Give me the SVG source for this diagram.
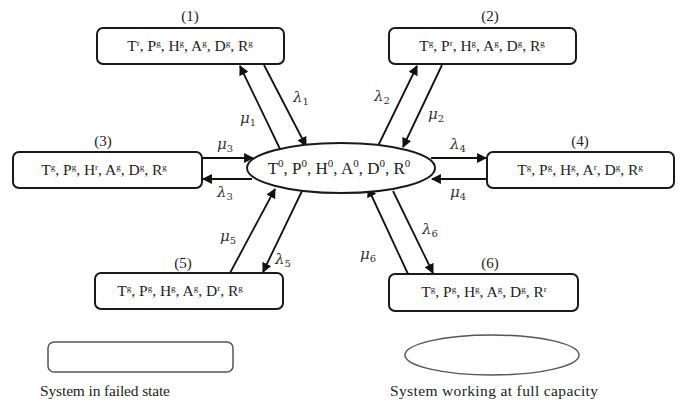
<svg xmlns="http://www.w3.org/2000/svg" width="683" height="405" viewBox="0 0 683 405">
<style>
.box{fill:#fff;stroke:#1a1a1a;stroke-width:2}
.t{font-family:"Liberation Serif",serif;font-size:15.5px;fill:#222;text-anchor:middle}
.s{font-size:9px}
.e{font-family:"Liberation Serif",serif;font-size:17px;fill:#222;text-anchor:middle}
.s2{font-size:11px}
.lb{font-family:"Liberation Serif",serif;font-size:15px;fill:#222;text-anchor:middle}
.g{font-family:"DejaVu Serif","Liberation Serif",serif;font-style:italic;font-size:15px;fill:#333;text-anchor:middle}
.sub{font-size:10px;font-style:normal}
.c{stroke:#111;stroke-width:1.8;fill:none;marker-end:url(#ah)}
.lg{font-family:"Liberation Serif",serif;font-size:15.5px;fill:#222}
</style>
<defs>
<marker id="ah" viewBox="0 0 10 10" refX="9" refY="5" markerWidth="5.5" markerHeight="5.5" orient="auto" markerUnits="strokeWidth">
<path d="M0,0 L10,5 L0,10 z" fill="#111"/>
</marker>
</defs>
<rect width="683" height="405" fill="#fff"/>
<g id="connectors">
<line class="c" x1="280" y1="149" x2="240" y2="66"/>
<line class="c" x1="264" y1="65" x2="306" y2="146"/>
<line class="c" x1="377" y1="148" x2="417" y2="66"/>
<line class="c" x1="442" y1="65" x2="403" y2="147"/>
<line class="c" x1="202" y1="158" x2="253" y2="158"/>
<line class="c" x1="252" y1="179" x2="203" y2="179"/>
<line class="c" x1="431" y1="158" x2="486" y2="158"/>
<line class="c" x1="487" y1="179" x2="432" y2="179"/>
<line class="c" x1="230" y1="273" x2="275" y2="189"/>
<line class="c" x1="302" y1="191" x2="263" y2="272"/>
<line class="c" x1="408" y1="274" x2="368" y2="188"/>
<line class="c" x1="393" y1="191" x2="433" y2="273"/>
<text class="g" x="248" y="123">μ<tspan class="sub" dy="3">1</tspan></text>
<text class="g" x="301" y="102">λ<tspan class="sub" dy="3">1</tspan></text>
<text class="g" x="382" y="101">λ<tspan class="sub" dy="3">2</tspan></text>
<text class="g" x="436" y="119">μ<tspan class="sub" dy="3">2</tspan></text>
<text class="g" x="225" y="149">μ<tspan class="sub" dy="3">3</tspan></text>
<text class="g" x="225" y="197">λ<tspan class="sub" dy="3">3</tspan></text>
<text class="g" x="458" y="149">λ<tspan class="sub" dy="3">4</tspan></text>
<text class="g" x="458" y="197">μ<tspan class="sub" dy="3">4</tspan></text>
<text class="g" x="228" y="241">μ<tspan class="sub" dy="3">5</tspan></text>
<text class="g" x="283" y="264">λ<tspan class="sub" dy="3">5</tspan></text>
<text class="g" x="368" y="259">μ<tspan class="sub" dy="3">6</tspan></text>
<text class="g" x="430" y="234">λ<tspan class="sub" dy="3">6</tspan></text>
</g>
<g id="n0">
<ellipse class="box" cx="341" cy="168" rx="94" ry="25"/>
<text class="e" x="339" y="174">T<tspan class="s2" dy="-7">0</tspan><tspan dy="7">, P</tspan><tspan class="s2" dy="-7">0</tspan><tspan dy="7">, H</tspan><tspan class="s2" dy="-7">0</tspan><tspan dy="7">, A</tspan><tspan class="s2" dy="-7">0</tspan><tspan dy="7">, D</tspan><tspan class="s2" dy="-7">0</tspan><tspan dy="7">, R</tspan><tspan class="s2" dy="-7">0</tspan></text>
</g>
<g id="n1">
<text class="lb" x="190" y="21">(1)</text>
<rect class="box" x="97" y="28" width="187" height="36" rx="6"/>
<text class="t" x="190" y="51">T<tspan class="s" dy="-5">r</tspan><tspan dy="5">, P</tspan><tspan class="s" dy="-5">g</tspan><tspan dy="5">, H</tspan><tspan class="s" dy="-5">g</tspan><tspan dy="5">, A</tspan><tspan class="s" dy="-5">g</tspan><tspan dy="5">, D</tspan><tspan class="s" dy="-5">g</tspan><tspan dy="5">,  R</tspan><tspan class="s" dy="-5">g</tspan></text>
</g>
<g id="n2">
<text class="lb" x="490" y="21">(2)</text>
<rect class="box" x="389" y="28" width="187" height="36" rx="6"/>
<text class="t" x="482" y="51">T<tspan class="s" dy="-5">g</tspan><tspan dy="5">, P</tspan><tspan class="s" dy="-5">r</tspan><tspan dy="5">, H</tspan><tspan class="s" dy="-5">g</tspan><tspan dy="5">, A</tspan><tspan class="s" dy="-5">g</tspan><tspan dy="5">, D</tspan><tspan class="s" dy="-5">g</tspan><tspan dy="5">, R</tspan><tspan class="s" dy="-5">g</tspan></text>
</g>
<g id="n3">
<text class="lb" x="103" y="146">(3)</text>
<rect class="box" x="13" y="152" width="189" height="36" rx="6"/>
<text class="t" x="104" y="175">T<tspan class="s" dy="-5">g</tspan><tspan dy="5">, P</tspan><tspan class="s" dy="-5">g</tspan><tspan dy="5">, H</tspan><tspan class="s" dy="-5">r</tspan><tspan dy="5">, A</tspan><tspan class="s" dy="-5">g</tspan><tspan dy="5">, D</tspan><tspan class="s" dy="-5">g</tspan><tspan dy="5">,  R</tspan><tspan class="s" dy="-5">g</tspan></text>
</g>
<g id="n4">
<text class="lb" x="580" y="146">(4)</text>
<rect class="box" x="487" y="152" width="187" height="36" rx="6"/>
<text class="t" x="580" y="175">T<tspan class="s" dy="-5">g</tspan><tspan dy="5">, P</tspan><tspan class="s" dy="-5">g</tspan><tspan dy="5">, H</tspan><tspan class="s" dy="-5">g</tspan><tspan dy="5">, A</tspan><tspan class="s" dy="-5">r</tspan><tspan dy="5">, D</tspan><tspan class="s" dy="-5">g</tspan><tspan dy="5">, R</tspan><tspan class="s" dy="-5">g</tspan></text>
</g>
<g id="n5">
<text class="lb" x="183" y="268">(5)</text>
<rect class="box" x="95" y="273" width="188" height="36" rx="6"/>
<text class="t" x="180" y="296">T<tspan class="s" dy="-5">g</tspan><tspan dy="5">, P</tspan><tspan class="s" dy="-5">g</tspan><tspan dy="5">, H</tspan><tspan class="s" dy="-5">g</tspan><tspan dy="5">, A</tspan><tspan class="s" dy="-5">g</tspan><tspan dy="5">, D</tspan><tspan class="s" dy="-5">r</tspan><tspan dy="5">, R</tspan><tspan class="s" dy="-5">g</tspan></text>
</g>
<g id="n6">
<text class="lb" x="490" y="268">(6)</text>
<rect class="box" x="389" y="274" width="189" height="37" rx="6"/>
<text class="t" x="484" y="297">T<tspan class="s" dy="-5">g</tspan><tspan dy="5">, P</tspan><tspan class="s" dy="-5">g</tspan><tspan dy="5">, H</tspan><tspan class="s" dy="-5">g</tspan><tspan dy="5">, A</tspan><tspan class="s" dy="-5">g</tspan><tspan dy="5">, D</tspan><tspan class="s" dy="-5">g</tspan><tspan dy="5">, R</tspan><tspan class="s" dy="-5">r</tspan></text>
</g>
<g id="legend">
<rect x="48" y="342" width="185" height="30" rx="6" fill="#fff" stroke="#555" stroke-width="1.5"/>
<ellipse cx="492" cy="355" rx="87" ry="20" fill="#fff" stroke="#555" stroke-width="1.5"/>
<text class="lg" x="40" y="396" textLength="130">System in failed state</text>
<text class="lg" x="390" y="396" textLength="208">System working at full capacity</text>
</g>
</svg>
